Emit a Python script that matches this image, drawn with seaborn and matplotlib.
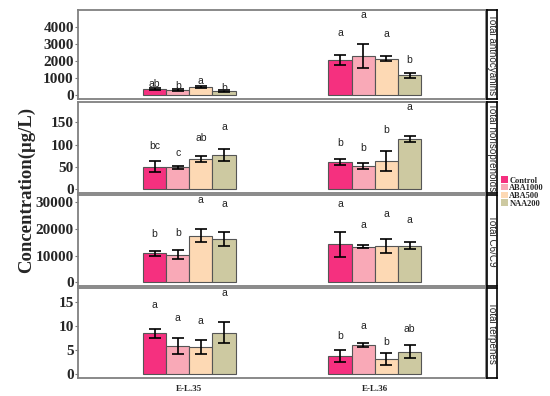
import matplotlib
matplotlib.use("Agg")
import matplotlib.pyplot as plt
import seaborn as sns
import pandas as pd
import numpy as np
from matplotlib.patches import Patch

sns.set_theme(style="white")
plt.rcParams['font.family'] = ['Liberation Serif', 'DejaVu Serif']

stages = ["E-L.35", "E-L.36"]
treatments = ["Control", "ABA1000", "ABA500", "NAA200"]
colors = ["#F5307F", "#F9A9B7", "#FDD9B4", "#CDC9A1"]
panels = ["Total anthocyanins", "Total norisoprenoids", "Total C6/C9", "Total terpenes"]

# means per panel: [stage][treatment]
anth_mean = [[360, 290, 500, 250], [2060, 2320, 2150, 1180]]
anth_sd = [[70, 60, 60, 40], [300, 700, 150, 150]]
anth_let = [["ab", "b", "a", "b"], ["a", "a", "a", "b"]]

nor_mean = [[51, 49, 68, 77], [61, 53, 64, 112]]
nor_sd = [[11.5, 4, 6.5, 13], [6.5, 6.5, 22, 6.5]]
nor_let = [["bc", "c", "ab", "a"], ["b", "b", "b", "a"]]

c6_mean = [[10800, 10300, 17400, 16200], [14200, 13400, 13700, 13700]]
c6_sd = [[800, 1700, 2400, 2600], [4700, 500, 2700, 1400]]
c6_let = [["b", "b", "a", "a"], ["a", "a", "a", "a"]]

terp_mean = [[8.45, 5.9, 5.6, 8.6], [3.85, 6.1, 3.15, 4.7]]
terp_sd = [[0.85, 1.6, 1.5, 2.2], [1.2, 0.35, 1.2, 1.3]]
terp_let = [["a", "a", "a", "a"], ["b", "a", "b", "ab"]]

data = [(anth_mean, anth_sd, anth_let, [0, 1000, 2000, 3000, 4000]),
        (nor_mean, nor_sd, nor_let, [0, 50, 100, 150]),
        (c6_mean, c6_sd, c6_let, [0, 10000, 20000, 30000]),
        (terp_mean, terp_sd, terp_let, [0, 5, 10, 15])]

W, H = 550, 396
fig = plt.figure(figsize=(W / 100, H / 100), dpi=100)
rows = [(10, 99), (102, 193), (195, 286), (288, 378)]
L, R, SR = 78, 486, 497

for i, ((m, s, let, ticks), (t, b)) in enumerate(zip(data, rows)):
    ax = fig.add_axes([L / W, 1 - b / H, (R - L) / W, (b - t) / H])
    df = pd.DataFrame([{"stage": stages[g], "trt": treatments[k], "val": m[g][k], "sd": s[g][k], "let": let[g][k]}
                       for g in range(2) for k in range(4)])
    sns.barplot(data=df, x="stage", y="val", hue="trt", order=stages, hue_order=treatments,
                palette=colors, width=0.5, errorbar=None, edgecolor="#555555", linewidth=0.8,
                legend=False, ax=ax, saturation=1)
    conts = list(ax.containers)
    ymax = 0
    for k, cont in enumerate(conts):
        for g, bar in enumerate(cont):
            xc = bar.get_x() + bar.get_width() / 2
            mv, sv = m[g][k], s[g][k]
            ax.errorbar(xc, mv, yerr=sv, color="black", capsize=4.5, elinewidth=1.2, capthick=1.2)
            ly = (mv + sv) * 1.55
            ymax = max(ymax, ly)
            ax.text(xc, ly, let[g][k], ha="center", va="center", fontsize=7.5,
                    family=["Liberation Sans", "DejaVu Sans"], color="#222222")
    ax.set_ylim(-0.045 * ymax, 1.065 * ymax)
    ax.set_xlim(-0.6, 1.6)
    ax.set_yticks(ticks)
    ax.set_yticklabels([str(v) for v in ticks], fontsize=11, fontweight="bold")
    ax.set_ylabel("")
    ax.set_xlabel("")
    ax.tick_params(axis="y", length=2, width=0.8, color="#777777", pad=1, left=True)
    if i < 3:
        ax.set_xticks([])
    else:
        ax.set_xticks([0, 1])
        ax.set_xticklabels(stages, fontsize=6.5, fontweight="bold")
        ax.tick_params(axis="x", length=0, pad=5)
    for sp in ax.spines.values():
        sp.set_color("#808080")
        sp.set_linewidth(1.3)
    # strip
    sax = fig.add_axes([(R + 1) / W, 1 - b / H, (SR - R - 1) / W, (b - t) / H])
    sax.set_xticks([])
    sax.set_yticks([])
    for sp in sax.spines.values():
        sp.set_color("black")
        sp.set_linewidth(1.2)
    sax.text(0.5, 0.5, panels[i], rotation=-90, ha="center", va="center", fontsize=7.1,
             family=["Liberation Sans", "DejaVu Sans"], transform=sax.transAxes)

hs = [Patch(facecolor=c, edgecolor="none") for c in colors]
fig.legend(hs, treatments, loc="center left", bbox_to_anchor=(501 / W, 1 - 192 / H), frameon=False,
           prop={"family": "Liberation Serif", "weight": "bold", "size": 6}, handlelength=0.8,
           handleheight=0.8, handletextpad=0.2, labelspacing=-0.05, borderpad=0, borderaxespad=0)

fig.text(26 / W, 1 - 190 / H, "Concentration(μg/L)", rotation=90, ha="center", va="center",
         fontsize=13.5, fontweight="bold")

fig.savefig("out.png", dpi=100)
